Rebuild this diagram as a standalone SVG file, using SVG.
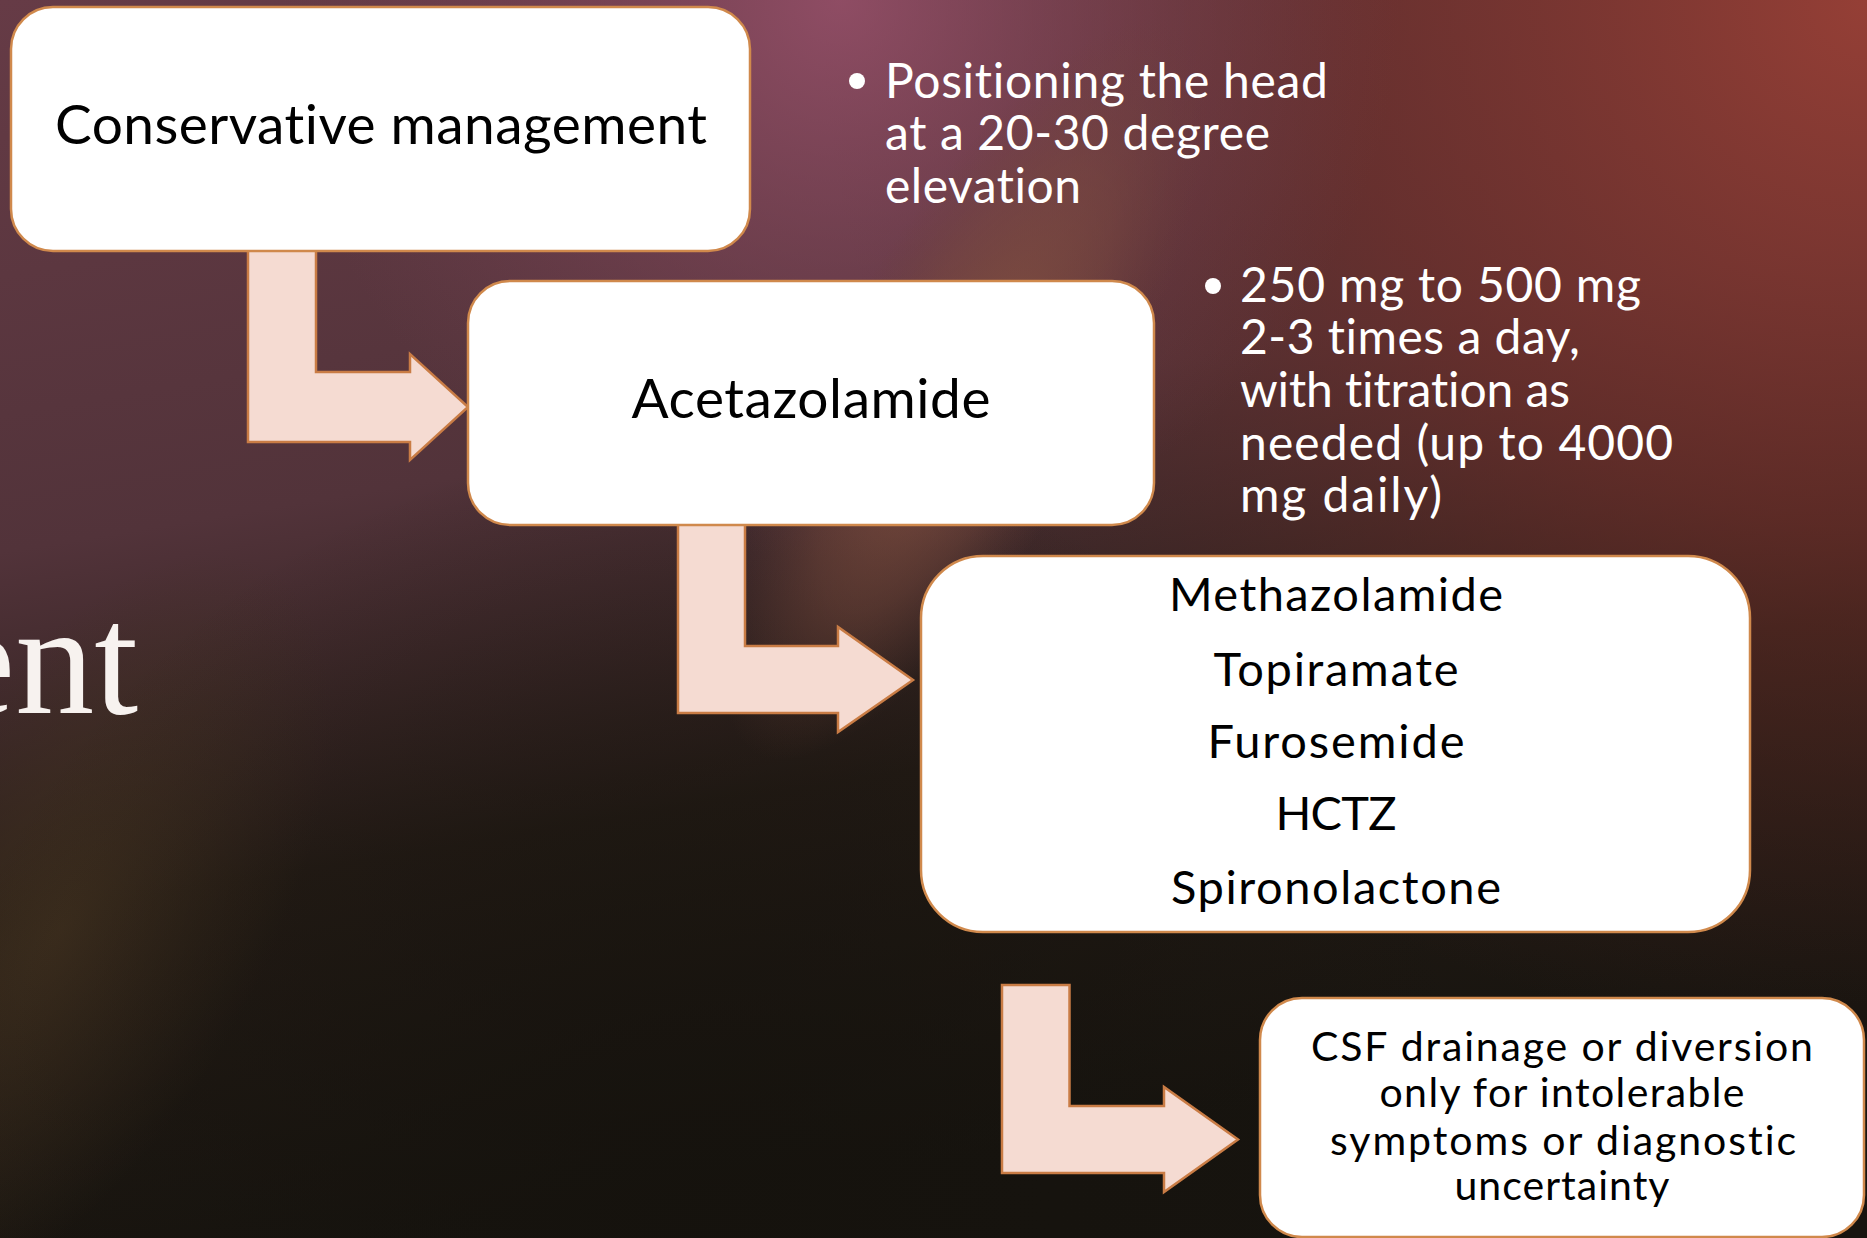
<svg xmlns="http://www.w3.org/2000/svg" width="1867" height="1238" viewBox="0 0 1867 1238">
<defs>
<linearGradient id="bgBase" x1="0" y1="0" x2="0.25" y2="1">
<stop offset="0" stop-color="#663b46"/>
<stop offset="0.42" stop-color="#52333a"/>
<stop offset="0.7" stop-color="#251c16"/>
<stop offset="1" stop-color="#17140f"/>
</linearGradient>
<radialGradient id="gRed" cx="1867" cy="0" r="1050" gradientUnits="userSpaceOnUse">
<stop offset="0" stop-color="#953f36" stop-opacity="1"/>
<stop offset="0.5" stop-color="#6e2e28" stop-opacity="0.7"/>
<stop offset="1" stop-color="#4a2520" stop-opacity="0"/>
</radialGradient>
<radialGradient id="gPink" cx="840" cy="0" r="560" gradientUnits="userSpaceOnUse">
<stop offset="0" stop-color="#97506a" stop-opacity="0.85"/>
<stop offset="1" stop-color="#7a4455" stop-opacity="0"/>
</radialGradient>
<radialGradient id="gGlow" cx="0" cy="0" r="1" gradientUnits="userSpaceOnUse" gradientTransform="translate(965,390) rotate(-60) scale(420,140)">
<stop offset="0" stop-color="#835140" stop-opacity="0.95"/>
<stop offset="0.6" stop-color="#7a4a3c" stop-opacity="0.45"/>
<stop offset="1" stop-color="#6a4036" stop-opacity="0"/>
</radialGradient>
<radialGradient id="gBrown" cx="0" cy="0" r="1" gradientUnits="userSpaceOnUse" gradientTransform="translate(60,930) rotate(-60) scale(420,200)">
<stop offset="0" stop-color="#40301f" stop-opacity="0.9"/>
<stop offset="1" stop-color="#40301f" stop-opacity="0"/>
</radialGradient>
<radialGradient id="gDark" cx="700" cy="1238" r="800" gradientUnits="userSpaceOnUse">
<stop offset="0" stop-color="#15120d" stop-opacity="0.9"/>
<stop offset="1" stop-color="#15120d" stop-opacity="0"/>
</radialGradient>
<style>
.box{fill:#ffffff;stroke:#d0894c;stroke-width:2.5}
.arrow{fill:#f5dbd2;stroke:#c97c45;stroke-width:2.5;stroke-linejoin:miter}
text{font-variant-ligatures:none}
.bt{font-family:Lato,"Noto Sans",sans-serif;fill:#000000;text-anchor:middle}
.wt{font-family:Lato,"Noto Sans",sans-serif;fill:#ffffff;font-size:48px}
</style>
</defs>
<rect x="0" y="0" width="1867" height="1238" fill="url(#bgBase)"/>
<rect x="0" y="0" width="1867" height="1238" fill="url(#gRed)"/>
<rect x="0" y="0" width="1867" height="1238" fill="url(#gPink)"/>
<rect x="0" y="0" width="1867" height="1238" fill="url(#gBrown)"/>
<rect x="0" y="0" width="1867" height="1238" fill="url(#gDark)"/>
<rect x="0" y="0" width="1867" height="1238" fill="url(#gGlow)"/>

<text x="-55" y="713" font-family="'Liberation Serif',serif" font-size="158" fill="#f7f2ef">ent</text>

<g id="connectors">
<path class="arrow" d="M248,245 L248,442 L410,442 L410,460 L468,407 L410,354 L410,372 L316,372 L316,245 Z"/>
<path class="arrow" d="M678,520 L678,713 L838,713 L838,732 L913,680 L838,627 L838,646 L745,646 L745,520 Z"/>
<path class="arrow" d="M1002,985 L1002,1173 L1164,1173 L1164,1192 L1238,1139.5 L1164,1087 L1164,1106 L1069.5,1106 L1069.5,985 Z"/>
</g>

<g id="node-conservative">
<rect class="box" x="11" y="7" width="739" height="244" rx="42"/>
<text class="bt" x="381" y="144" font-size="55" textLength="652" lengthAdjust="spacing">Conservative management</text>
</g>

<g id="node-acetazolamide">
<rect class="box" x="468" y="281" width="686" height="244" rx="42"/>
<text class="bt" x="811" y="418" font-size="55" textLength="359" lengthAdjust="spacing">Acetazolamide</text>
</g>

<g id="node-alternatives">
<rect class="box" x="921" y="556" width="829" height="376" rx="62"/>
<text class="bt" x="1336" y="611" font-size="47" textLength="334" lengthAdjust="spacing">Methazolamide</text>
<text class="bt" x="1336" y="686" font-size="47" textLength="245" lengthAdjust="spacing">Topiramate</text>
<text class="bt" x="1336" y="758" font-size="47" textLength="257" lengthAdjust="spacing">Furosemide</text>
<text class="bt" x="1336" y="830" font-size="47" textLength="121" lengthAdjust="spacing">HCTZ</text>
<text class="bt" x="1336" y="904" font-size="47" textLength="330" lengthAdjust="spacing">Spironolactone</text>
</g>

<g id="node-csf">
<rect class="box" x="1260" y="998" width="604" height="239" rx="42"/>
<text class="bt" x="1562" y="1061" font-size="41" textLength="502" lengthAdjust="spacing">CSF drainage or diversion</text>
<text class="bt" x="1562" y="1107" font-size="41" textLength="365" lengthAdjust="spacing">only for intolerable</text>
<text class="bt" x="1563" y="1155" font-size="41" textLength="466" lengthAdjust="spacing">symptoms or diagnostic</text>
<text class="bt" x="1562" y="1200" font-size="41" textLength="215" lengthAdjust="spacing">uncertainty</text>
</g>

<g id="note-positioning">
<circle cx="857" cy="81" r="8" fill="#ffffff"/>
<text class="wt" x="885" y="97.5" textLength="443" lengthAdjust="spacing">Positioning the head</text>
<text class="wt" x="885" y="150" textLength="385" lengthAdjust="spacing">at a 20-30 degree</text>
<text class="wt" x="885" y="203" textLength="196" lengthAdjust="spacing">elevation</text>
</g>

<g id="note-dosage">
<circle cx="1213" cy="286" r="8" fill="#ffffff"/>
<text class="wt" x="1240" y="302" textLength="401" lengthAdjust="spacing">250 mg to 500 mg</text>
<text class="wt" x="1240" y="354" textLength="340" lengthAdjust="spacing">2-3 times a day,</text>
<text class="wt" x="1240" y="407" textLength="330" lengthAdjust="spacing">with titration as</text>
<text class="wt" x="1240" y="460" textLength="433" lengthAdjust="spacing">needed (up to 4000</text>
<text class="wt" x="1240" y="512" textLength="202" lengthAdjust="spacing">mg daily)</text>
</g>
</svg>
